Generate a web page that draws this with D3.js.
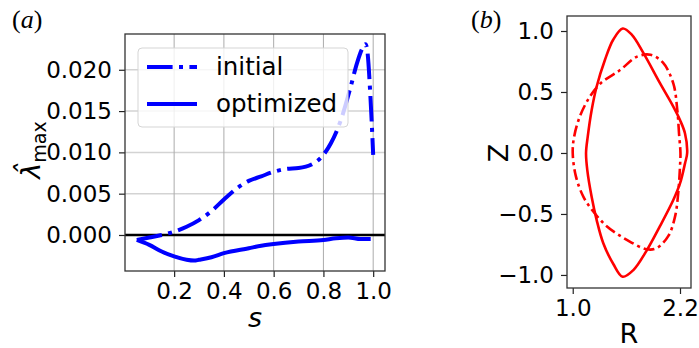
<!DOCTYPE html>
<html>
<head>
<meta charset="utf-8">
<script src="https://cdn.jsdelivr.net/npm/d3@7"></script>
<style>
  body { margin: 0; background: #fff; }
  text { font-family: "DejaVu Sans", sans-serif; fill: #000; }
</style>
</head>
<body>
<div id="chart"></div>
<script>
// panel (a): lambda_max vs s
const sInitial = [0.05, 0.1, 0.15, 0.2, 0.25, 0.3, 0.35, 0.4, 0.45, 0.5, 0.55, 0.6, 0.65, 0.7, 0.75, 0.8, 0.83, 0.87, 0.91, 0.935, 0.955, 0.969, 0.976, 0.989, 1.0]
const initialVals = [-0.0006, -0.0003, 0.0000, 0.0004, 0.0010, 0.0018, 0.0029, 0.0043, 0.0056, 0.00655, 0.0071, 0.00765, 0.0080, 0.0081, 0.0085, 0.0097, 0.0111, 0.0139, 0.0180, 0.0208, 0.0225, 0.0231, 0.0224, 0.0167, 0.0097]
const sOptimized = [0.05, 0.1, 0.15, 0.2, 0.25, 0.28, 0.3, 0.35, 0.4, 0.5, 0.55, 0.6, 0.7, 0.8, 0.85, 0.9, 0.95, 0.99]
const optimizedVals = [-0.0006, -0.0012, -0.0020, -0.0026, -0.0030, -0.0031, -0.0030, -0.0027, -0.0022, -0.0016, -0.0013, -0.0011, -0.0008, -0.0006, -0.0004, -0.0003, -0.0005, -0.0005]
const sTicks = [0.2, 0.4, 0.6, 0.8, 1.0]
const lamTicks = [0.000, 0.005, 0.010, 0.015, 0.020]

// panel (b): boundary shapes
const initR = [2.205, 2.19, 2.17, 2.125, 2.01, 1.87, 1.72, 1.53, 1.31, 1.19, 1.08, 1.015, 1.0, 1.035, 1.12, 1.23, 1.38, 1.60, 1.83, 1.94, 2.07, 2.145, 2.18, 2.20]
const initZ = [0.0, 0.15, 0.35, 0.57, 0.74, 0.805, 0.79, 0.68, 0.57, 0.46, 0.30, 0.13, 0.0, -0.19, -0.36, -0.48, -0.60, -0.71, -0.79, -0.78, -0.68, -0.52, -0.33, -0.11]
const optR = [2.28, 2.256, 2.20, 2.125, 1.976, 1.79, 1.66, 1.56, 1.454, 1.361, 1.268, 1.212, 1.168, 1.149, 1.163, 1.212, 1.268, 1.342, 1.454, 1.559, 1.678, 1.827, 1.976, 2.125, 2.20, 2.256]
const optZ = [0.0, 0.16, 0.27, 0.38, 0.572, 0.82, 0.97, 1.02, 0.93, 0.764, 0.545, 0.353, 0.134, 0.0, -0.14, -0.36, -0.55, -0.74, -0.91, -1.015, -0.96, -0.80, -0.60, -0.386, -0.25, -0.085]
const rTicks = [1.0, 2.2]
const zTicks = [-1.0, -0.5, 0.0, 0.5, 1.0]

const W = 699, H = 348
const svg = d3.select('#chart').append('svg')
  .attr('width', W).attr('height', H)

const minus = v => v.replace('-', '\u2212')

// ---------- panel (a) ----------
const xa = d3.scaleLinear().domain([0.0025, 1.0475]).range([125, 385])
const ya = d3.scaleLinear().domain([-0.00436, 0.02433]).range([271, 34])

const ga = svg.append('g')

// grid
ga.selectAll('.hgrid').data(lamTicks).enter().append('line')
  .attr('x1', 125).attr('x2', 385)
  .attr('y1', d => ya(d)).attr('y2', d => ya(d))
  .attr('stroke', '#d3d3d3').attr('stroke-width', 1.5)
ga.selectAll('.vgrid').data(sTicks).enter().append('line')
  .attr('y1', 34).attr('y2', 271)
  .attr('x1', d => xa(d)).attr('x2', d => xa(d))
  .attr('stroke', '#ababab').attr('stroke-width', 1)

// zero line
ga.append('line')
  .attr('x1', 125).attr('x2', 385)
  .attr('y1', ya(0)).attr('y2', ya(0))
  .attr('stroke', '#000').attr('stroke-width', 2.4)

const lineA = d3.line().curve(d3.curveMonotoneX)
  .x(d => xa(d[0])).y(d => ya(d[1]))

ga.append('path')
  .datum(sInitial.map((s, i) => [s, initialVals[i]]))
  .attr('d', lineA)
  .attr('fill', 'none').attr('stroke', '#0000ff').attr('stroke-width', 4)
  .attr('stroke-dasharray', '25.6,6.4,4,6.4')

ga.append('path')
  .datum(sOptimized.map((s, i) => [s, optimizedVals[i]]))
  .attr('d', lineA)
  .attr('fill', 'none').attr('stroke', '#0000ff').attr('stroke-width', 4)

// axes
const axA_x = ga.append('g').attr('transform', 'translate(0,271)')
  .call(d3.axisBottom(xa).tickValues(sTicks).tickFormat(d3.format('.1f')).tickSize(6).tickPadding(6))
const axA_y = ga.append('g').attr('transform', 'translate(125,0)')
  .call(d3.axisLeft(ya).tickValues(lamTicks).tickFormat(d3.format('.3f')).tickSize(6).tickPadding(7))
;[axA_x, axA_y].forEach(ax => {
  ax.select('.domain').remove()
  ax.selectAll('text').style('font-size', '23px').attr('font-family', 'DejaVu Sans')
  ax.selectAll('line').attr('stroke', '#222').attr('stroke-width', 1.2)
})

ga.append('rect')
  .attr('x', 125).attr('y', 34).attr('width', 260).attr('height', 237)
  .attr('fill', 'none').attr('stroke', '#333').attr('stroke-width', 1.3)

// legend
const leg = ga.append('g')
leg.append('rect')
  .attr('x', 138).attr('y', 48).attr('width', 210).attr('height', 79)
  .attr('rx', 4)
  .attr('fill', '#fff').attr('fill-opacity', 0.8)
  .attr('stroke', '#d5d5d5').attr('stroke-width', 1)
const legItems = [['initial', '25.6,6.4,4,6.4'], ['optimized', null]]
legItems.forEach((it, i) => {
  const y = 67 + i * 37
  leg.append('line')
    .attr('x1', 147).attr('x2', 197).attr('y1', y).attr('y2', y)
    .attr('stroke', '#0000ff').attr('stroke-width', 4)
    .attr('stroke-dasharray', it[1])
  leg.append('text')
    .attr('x', 216).attr('y', y + 8)
    .style('font-size', '24.5px')
    .text(it[0])
})

// labels
ga.append('text')
  .attr('x', 255).attr('y', 327)
  .attr('text-anchor', 'middle')
  .style('font-size', '27px').style('font-style', 'italic')
  .text('s')

const yl = ga.append('text')
  .attr('transform', 'translate(40,150) rotate(-90)')
  .attr('text-anchor', 'middle')
  .style('font-size', '27px')
yl.append('tspan').style('font-style', 'italic').text('\u03bb\u0302')
yl.append('tspan').attr('dy', 6).style('font-size', '19px').text('max')

ga.append('text')
  .attr('x', 12).attr('y', 28)
  .style('font-family', '"Liberation Serif", serif').style('font-size', '26px')
  .html('(<tspan font-style="italic">a</tspan>)')

// ---------- panel (b) ----------
const xb = d3.scaleLinear().domain([0.936, 2.323]).range([567, 691])
const yb = d3.scaleLinear().domain([-1.107, 1.123]).range([288, 16])

const gb = svg.append('g')

const lineB = d3.line().curve(d3.curveCatmullRomClosed)
  .x(d => xb(d[0])).y(d => yb(d[1]))

gb.append('path')
  .datum(initR.map((r, i) => [r, initZ[i]]))
  .attr('d', lineB)
  .attr('fill', 'none').attr('stroke', '#ff0000').attr('stroke-width', 2.6)
  .attr('stroke-dasharray', '11,4,3,4')

gb.append('path')
  .datum(optR.map((r, i) => [r, optZ[i]]))
  .attr('d', lineB)
  .attr('fill', 'none').attr('stroke', '#ff0000').attr('stroke-width', 2.6)

const axB_x = gb.append('g').attr('transform', 'translate(0,288)')
  .call(d3.axisBottom(xb).tickValues(rTicks).tickFormat(d3.format('.1f')).tickSize(6).tickPadding(6))
const axB_y = gb.append('g').attr('transform', 'translate(567,0)')
  .call(d3.axisLeft(yb).tickValues(zTicks).tickFormat(d => minus(d3.format('.1f')(d))).tickSize(6).tickPadding(7))
;[axB_x, axB_y].forEach(ax => {
  ax.select('.domain').remove()
  ax.selectAll('text').style('font-size', '23px').attr('font-family', 'DejaVu Sans')
  ax.selectAll('line').attr('stroke', '#222').attr('stroke-width', 1.2)
})

gb.append('rect')
  .attr('x', 567).attr('y', 16).attr('width', 124).attr('height', 272)
  .attr('fill', 'none').attr('stroke', '#333').attr('stroke-width', 1.3)

gb.append('text')
  .attr('x', 629).attr('y', 343)
  .attr('text-anchor', 'middle')
  .style('font-size', '27px')
  .text('R')

gb.append('text')
  .attr('transform', 'translate(508,153) rotate(-90)')
  .attr('text-anchor', 'middle')
  .style('font-size', '27px')
  .text('Z')

gb.append('text')
  .attr('x', 471).attr('y', 28)
  .style('font-family', '"Liberation Serif", serif').style('font-size', '26px')
  .html('(<tspan font-style="italic">b</tspan>)')
</script>
</body>
</html>
